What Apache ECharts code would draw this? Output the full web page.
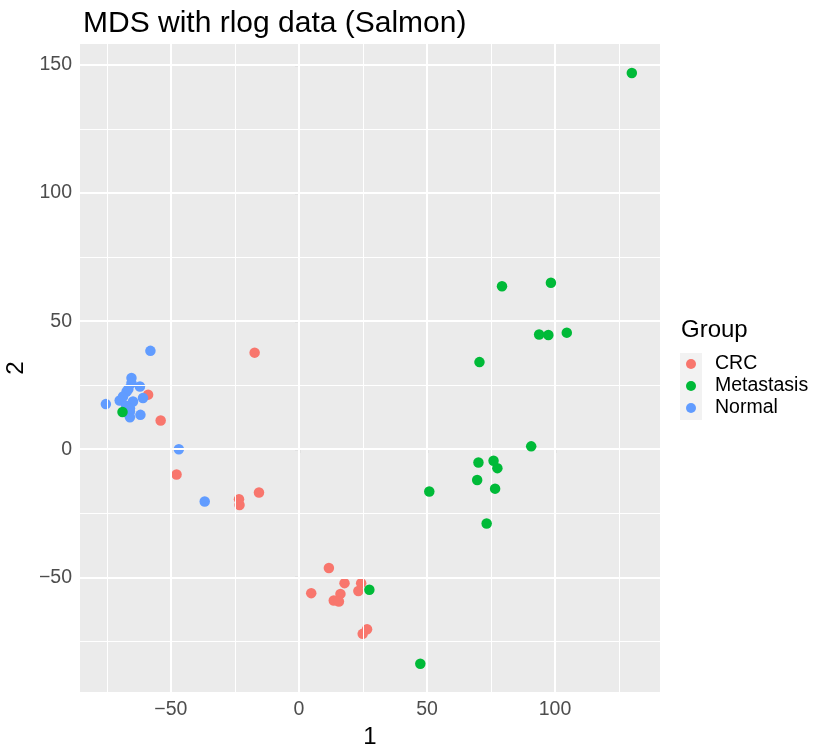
<!DOCTYPE html>
<html>
<head>
<meta charset="utf-8">
<script src="https://cdn.jsdelivr.net/npm/echarts@6/dist/echarts.min.js"></script>
<style>
  html, body { margin: 0; padding: 0; background: #ffffff; }
  #chart { width: 813px; height: 746px; }
</style>
</head>
<body>
<div id="chart"></div>
<script>
// MDS coordinates per group (dimension 1 = x, dimension 2 = y)
const crcX = [-58.9, -54.0, -47.8, -23.4, -23.2, -15.6, -17.3, 11.7, 17.8, 24.3, 23.2, 4.8, 16.2, 13.6, 15.6, 26.6, 24.9];
const crcY = [21.3, 11.2, -9.9, -19.5, -21.8, -16.9, 37.7, -46.4, -52.3, -52.3, -55.4, -56.2, -56.5, -59.1, -59.5, -70.3, -72.1];

const metX = [-68.9, 27.5, 47.4, 50.9, 73.3, 69.6, 76.6, 77.5, 70.1, 76.0, 90.7, 70.5, 93.8, 97.4, 104.6, 79.3, 98.4, 130.0];
const metY = [14.5, -54.9, -83.8, -16.5, -29.0, -12.0, -15.4, -7.4, -5.2, -4.5, 1.1, 34.0, 44.8, 44.6, 45.5, 63.6, 65.0, 146.9];

const normX = [-58.0, -65.4, -65.4, -62.1, -60.9, -67.3, -68.7, -70.0, -64.8, -75.4, -66.0, -66.0, -61.9, -46.9, -36.8, -67.5, -66.6, -66.0];
const normY = [38.4, 27.8, 25.8, 24.5, 20.0, 22.5, 20.6, 19.0, 18.6, 17.6, 14.7, 12.5, 13.4, 0.0, -20.4, 17.0, 23.5, 16.0];

const groupNames = ['CRC', 'Metastasis', 'Normal'];
const groupColors = ['#F8766D', '#00BA38', '#619CFF'];

// axis breaks
const xMajor = [-50, 0, 50, 100];
const xMinor = [-75, -25, 25, 75, 125];
const yMajor = [-50, 0, 50, 100, 150];
const yMinor = [-75, -25, 25, 75, 125];

const xRange = [-85.5, 141.0];
const yRange = [-94.8, 158.2];

const FONT = 'Liberation Sans, Arial, Helvetica, sans-serif';

function zip(xs, ys) { return xs.map((x, i) => [x, ys[i]]); }

function gridLines(values, dim, width) {
  return values.map(v => ({ [dim]: v, lineStyle: { color: '#ffffff', width: width, type: 'solid' } }));
}

function minusLabel(v) { return v < 0 ? '\u2212' + Math.abs(v) : String(v); }

const chart = echarts.init(document.getElementById('chart'), null, { renderer: 'canvas' });

const pointSeries = [
  { name: 'CRC', x: crcX, y: crcY, color: groupColors[0], z: 3 },
  { name: 'Normal', x: normX, y: normY, color: groupColors[2], z: 4 },
  { name: 'Metastasis', x: metX, y: metY, color: groupColors[1], z: 5 }
].map(g => ({
  name: g.name,
  type: 'scatter',
  data: zip(g.x, g.y),
  symbol: 'circle',
  symbolSize: 10.5,
  itemStyle: { color: g.color, opacity: 1 },
  z: g.z,
  silent: true
}));

chart.setOption({
  animation: false,
  backgroundColor: '#ffffff',
  title: {
    text: 'MDS with rlog data (Salmon)',
    left: 78,
    top: 4,
    textStyle: { fontFamily: FONT, fontSize: 30, fontWeight: 'normal', color: '#000000' }
  },
  grid: {
    left: 80, right: 153, top: 44, bottom: 54,
    outerBoundsMode: 'none',
    containLabel: false,
    show: true, backgroundColor: '#EBEBEB', borderWidth: 0
  },
  legend: {
    data: groupNames,
    orient: 'vertical',
    left: 686,
    top: 354,
    padding: 0,
    itemGap: 2,
    itemWidth: 10,
    itemHeight: 10,
    icon: 'circle',
    selectedMode: false,
    textStyle: { fontFamily: FONT, fontSize: 19.5, color: '#000000', lineHeight: 20, padding: [0, 0, 0, 14] }
  },
  graphic: [
    {
      type: 'rect', left: 680, top: 353, z: -1,
      shape: { width: 22, height: 67 },
      style: { fill: '#F2F2F2' }
    },
    {
      type: 'text', left: 681, top: 318,
      style: { text: 'Group', font: '24px ' + FONT, fill: '#000000' }
    }
  ],
  xAxis: {
    type: 'value',
    min: xRange[0], max: xRange[1],
    name: '1',
    nameLocation: 'middle',
    nameGap: 29,
    nameTextStyle: { fontFamily: FONT, fontSize: 24, color: '#000000' },
    axisLine: { show: false },
    axisTick: { show: true, customValues: xMajor, length: 4, lineStyle: { color: '#333333', width: 1.1 } },
    axisLabel: { customValues: xMajor, fontFamily: FONT, fontSize: 19.5, color: '#4D4D4D', margin: 8,
      formatter: minusLabel },
    splitLine: { show: false }
  },
  yAxis: {
    type: 'value',
    min: yRange[0], max: yRange[1],
    name: '2',
    nameLocation: 'middle',
    nameGap: 46,
    nameRotate: 90,
    nameTextStyle: { fontFamily: FONT, fontSize: 24, color: '#000000' },
    axisLine: { show: false },
    axisTick: { show: true, customValues: yMajor, length: 4, lineStyle: { color: '#333333', width: 1.1 } },
    axisLabel: { customValues: yMajor, fontFamily: FONT, fontSize: 19.5, color: '#4D4D4D', margin: 8,
      formatter: minusLabel },
    splitLine: { show: false }
  },
  series: [
    {
      // panel grid lines, minor then major
      name: 'grid',
      type: 'scatter',
      data: [],
      z: 1,
      silent: true,
      markLine: {
        silent: true,
        symbol: ['none', 'none'],
        label: { show: false },
        animation: false,
        data: [
          ...gridLines(xMinor, 'xAxis', 1),
          ...gridLines(yMinor, 'yAxis', 1),
          ...gridLines(xMajor, 'xAxis', 2),
          ...gridLines(yMajor, 'yAxis', 2)
        ]
      }
    },
    ...pointSeries
  ]
});
</script>
</body>
</html>
